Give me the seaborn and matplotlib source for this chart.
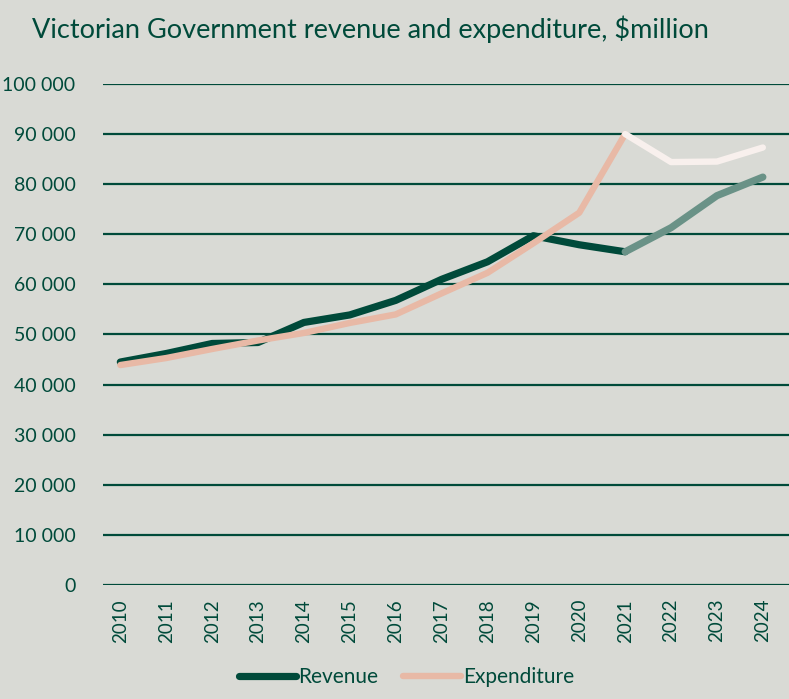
import pandas as pd
import seaborn as sns
import matplotlib.pyplot as plt
from matplotlib.ticker import FuncFormatter

years = list(range(2010, 2025))
revenue = [44500, 46200, 48200, 48400, 52400, 53900, 56800, 61000, 64500, 69700,
           67900, 66500, 71300, 77700, 81400]
expenditure = [43900, 45300, 47100, 48800, 50300, 52300, 54000, 58200, 62300, 68200,
               74300, 90000, 84400, 84500, 87300]
last_actual = 2021

bg = '#d9dad5'
dark = '#004a3a'

sns.set_theme(style='white')
plt.rcParams['font.family'] = ['Lato', 'DejaVu Sans']

df = pd.DataFrame({'year': years, 'Revenue': revenue, 'Expenditure': expenditure})
actual = df[df.year <= last_actual]
forecast = df[df.year >= last_actual]

fig = plt.figure(figsize=(7.89, 6.99), dpi=100, facecolor=bg)
ax = fig.add_axes([0.131, 0.163, 0.869, 0.717])
ax.set_facecolor(bg)

for v in range(0, 100001, 10000):
    ax.axhline(v, color=dark, lw=1.6, zorder=1)

sns.lineplot(data=actual, x='year', y='Revenue', color=dark, lw=5.2, ax=ax,
             solid_capstyle='round', zorder=3)
sns.lineplot(data=forecast, x='year', y='Revenue', color='#6a9287', lw=5.2, ax=ax,
             solid_capstyle='round', zorder=3)
sns.lineplot(data=actual, x='year', y='Expenditure', color='#e8b9a6', lw=4.6, ax=ax,
             solid_capstyle='round', zorder=4)
sns.lineplot(data=forecast, x='year', y='Expenditure', color='#f8f0ed', lw=4.6, ax=ax,
             solid_capstyle='round', zorder=4)

ax.set_xlim(2009.63, 2024.57)
ax.set_ylim(0, 100000)
ax.set_xticks(years)
ax.set_xticklabels([str(y) for y in years], rotation=90, fontsize=13.5, color=dark)
ax.set_yticks(range(0, 100001, 10000))
ax.yaxis.set_major_formatter(FuncFormatter(lambda v, p: f'{int(v):,}'.replace(',', ' ')))
ax.tick_params(axis='y', labelsize=14, labelcolor=dark, length=0, pad=20)
ax.tick_params(axis='x', length=0, pad=10)
for lab in ax.get_yticklabels():
    lab.set_horizontalalignment('right')
ax.set_xlabel('')
ax.set_ylabel('')
sns.despine(ax=ax, left=True, bottom=True)

fig.text(0.04, 0.978, 'Victorian Government revenue and expenditure, $million',
         fontsize=19.5, color=dark, va='top')

handles = [plt.Line2D([], [], color=dark, lw=5.2, solid_capstyle='round'),
           plt.Line2D([], [], color='#e8b9a6', lw=4.6, solid_capstyle='round')]
fig.legend(handles, ['Revenue', 'Expenditure'], loc='lower center', ncol=2,
           bbox_to_anchor=(0.515, -0.01), frameon=False, fontsize=15,
           labelcolor=dark, handlelength=2.75, handletextpad=0.1, columnspacing=1.2)

fig.savefig('out.png', dpi=100, facecolor=bg)
